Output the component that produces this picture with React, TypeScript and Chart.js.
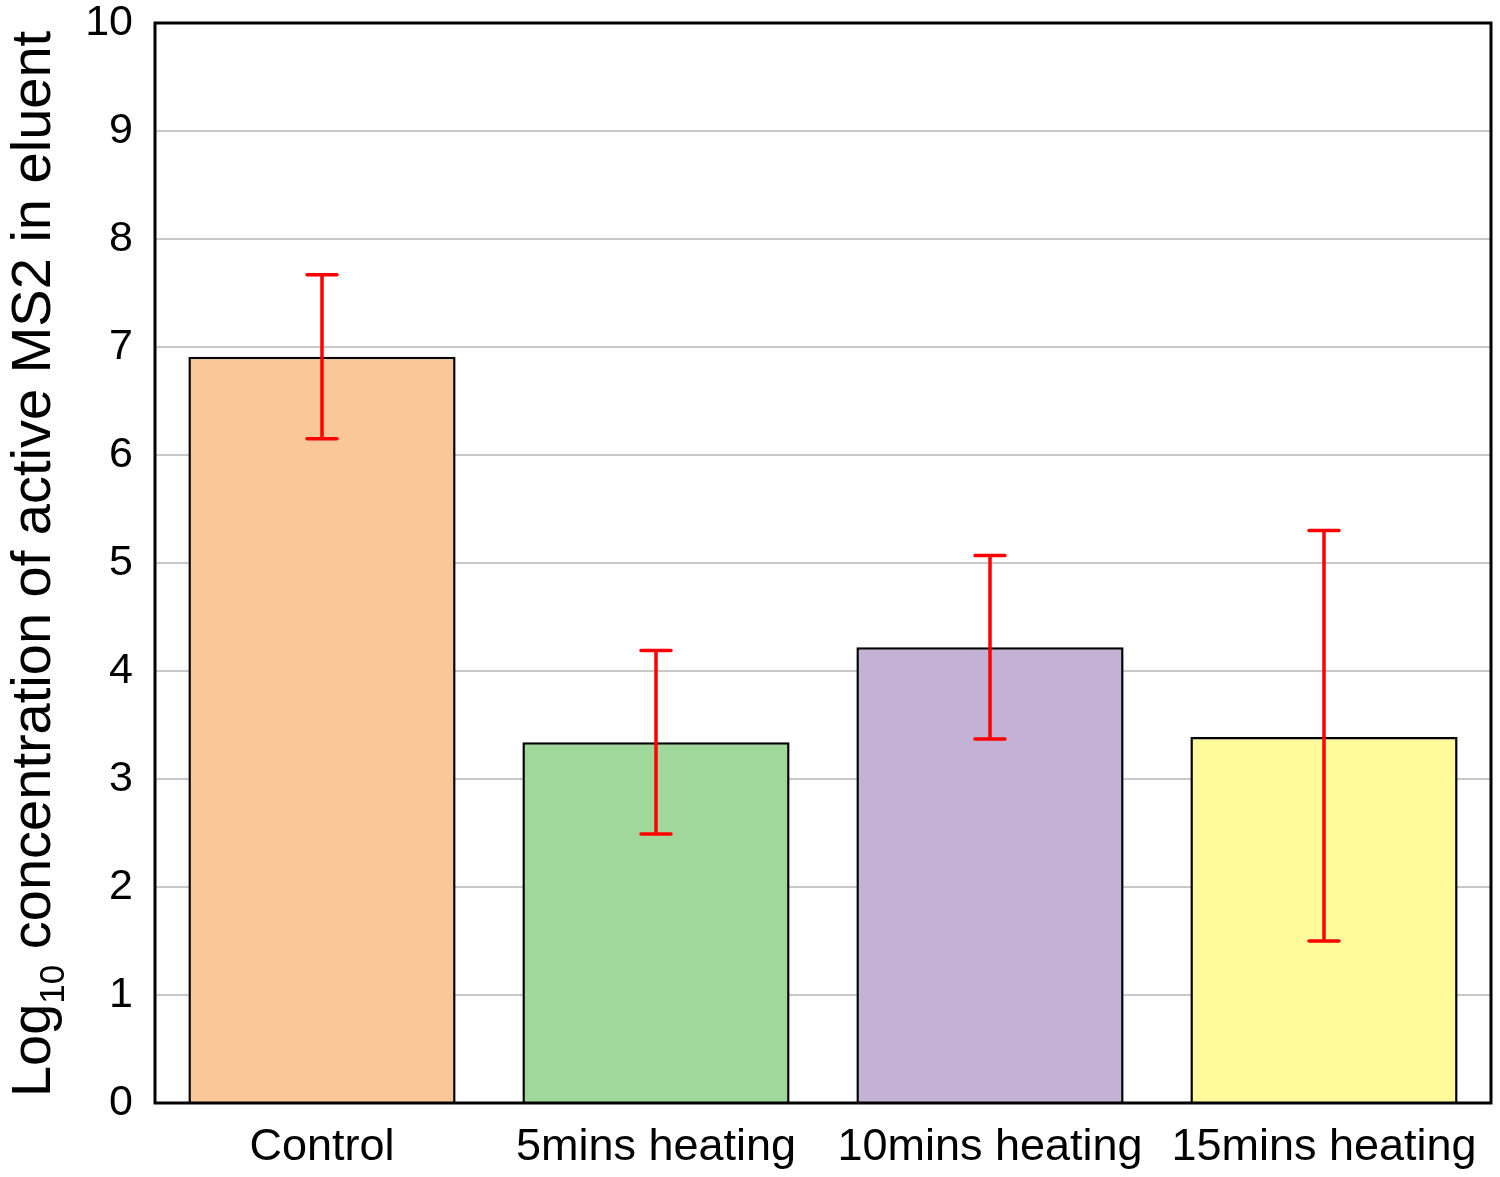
import React, { useEffect, useRef } from "react";
import { Chart, registerables } from "chart.js";

Chart.register(...registerables);

const categories = ["Control", "5mins heating", "10mins heating", "15mins heating"];
const means = [6.91, 3.34, 4.22, 3.39];
const errLow = [6.15, 2.49, 3.37, 1.5];
const errHigh = [7.67, 4.19, 5.07, 5.3];
const barColors = ["#FAC898", "#A0D89C", "#C3B1D6", "#FFFB9C"];
const yMin = 0;
const yMax = 10;
const yStep = 1;
const titleMain = "Log";
const titleSub = "10";
const titleRest = " concentration of active MS2 in eluent";

const FONT = "'Liberation Sans', Arial, Helvetica, sans-serif";

const errorBarPlugin = {
  id: "errorBars",
  afterDatasetsDraw(chart: any) {
    const ctx = chart.ctx;
    const meta = chart.getDatasetMeta(0);
    const y = chart.scales.y;
    ctx.save();
    ctx.strokeStyle = "#FF0000";
    ctx.lineWidth = 3.5;
    ctx.lineCap = "round";
    meta.data.forEach((bar: any, i: number) => {
      const x = bar.x;
      const yt = y.getPixelForValue(errHigh[i]);
      const yb = y.getPixelForValue(errLow[i]);
      const cap = 15;
      ctx.beginPath();
      ctx.moveTo(x, yt);
      ctx.lineTo(x, yb);
      ctx.moveTo(x - cap, yt);
      ctx.lineTo(x + cap, yt);
      ctx.moveTo(x - cap, yb);
      ctx.lineTo(x + cap, yb);
      ctx.stroke();
    });
    ctx.restore();
  },
  afterDraw(chart: any) {
    const ctx = chart.ctx;
    const a = chart.chartArea;
    ctx.save();
    ctx.strokeStyle = "#000";
    ctx.lineWidth = 3;
    ctx.strokeRect(a.left, a.top, a.right - a.left, a.bottom - a.top);
    const mainFont = `56px ${FONT}`;
    const subFont = `35px ${FONT}`;
    ctx.font = mainFont;
    const w1 = ctx.measureText(titleMain).width;
    const w3 = ctx.measureText(titleRest).width;
    ctx.font = subFont;
    const w2 = ctx.measureText(titleSub).width;
    const total = w1 + w2 + w3;
    const cy = (a.top + a.bottom) / 2 + 1;
    ctx.translate(50, cy);
    ctx.rotate(-Math.PI / 2);
    ctx.fillStyle = "#000";
    ctx.textBaseline = "alphabetic";
    ctx.textAlign = "left";
    let x = -total / 2;
    ctx.font = mainFont;
    ctx.fillText(titleMain, x, 0);
    x += w1;
    ctx.font = subFont;
    ctx.fillText(titleSub, x, 14);
    x += w2;
    ctx.font = mainFont;
    ctx.fillText(titleRest, x, 0);
    ctx.restore();
  },
};

export default function App() {
  const ref = useRef<HTMLCanvasElement | null>(null);
  useEffect(() => {
    document.body.style.margin = "0";
    if (!ref.current) return;
    const chart = new Chart(ref.current, {
      type: "bar",
      data: {
        labels: categories,
        datasets: [
          {
            data: means,
            backgroundColor: barColors,
            borderColor: "#000",
            borderWidth: 2.5,
            barPercentage: 0.8,
            categoryPercentage: 1,
          },
        ],
      },
      options: {
        responsive: false,
        animation: false,
        devicePixelRatio: 1,
        layout: { padding: { left: 0, right: 9, top: 23, bottom: 0 } },
        plugins: { legend: { display: false }, tooltip: { enabled: false } },
        scales: {
          x: {
            grid: { display: false, drawTicks: false },
            border: { display: false },
            ticks: {
              color: "#000",
              font: { family: FONT, size: 45 },
              padding: 18,
              maxRotation: 0,
              autoSkip: false,
            },
            afterFit(scale: any) {
              scale.height = 74;
              scale.paddingLeft = 0;
              scale.paddingRight = 0;
            },
          },
          y: {
            min: yMin,
            max: yMax,
            grid: { color: "#C8C8C8", lineWidth: 2, drawTicks: false },
            border: { display: false },
            ticks: {
              stepSize: yStep,
              color: "#000",
              font: { family: FONT, size: 43 },
              padding: 22,
            },
            afterFit(scale: any) {
              scale.width = 155;
              scale.paddingTop = 0;
              scale.paddingBottom = 0;
            },
          },
        },
      },
      plugins: [errorBarPlugin],
    });
    return () => chart.destroy();
  }, []);
  return <canvas ref={ref} width={1500} height={1177} style={{ display: "block" }} />;
}
